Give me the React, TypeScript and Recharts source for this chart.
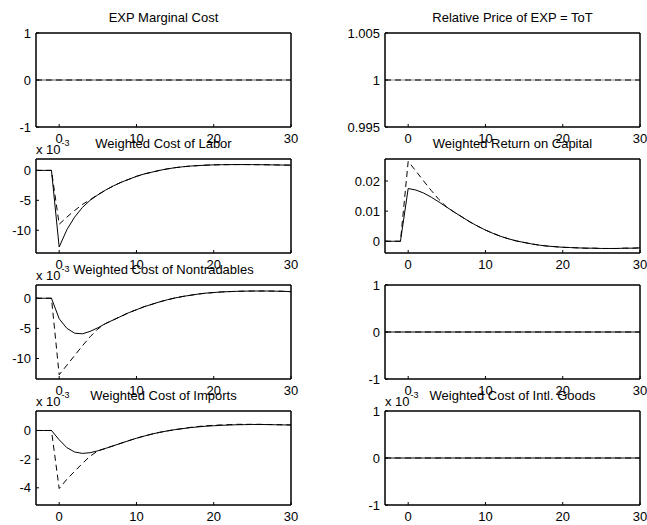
import { LineChart, Line, XAxis, YAxis, ReferenceArea } from 'recharts'

// quarters after the shock
const periods = [
  -3, -2, -1, 0, 1, 2, 3, 4, 5, 6, 7, 8, 9, 10, 11, 12, 13, 14, 15, 16,
  17, 18, 19, 20, 21, 22, 23, 24, 25, 26, 27, 28, 29, 30,
]
const xTicks = [0, 10, 20, 30]

// flat responses
const zeroPath = [
  0, 0, 0, 0, 0, 0, 0, 0, 0, 0, 0, 0, 0, 0, 0, 0, 0, 0, 0, 0,
  0, 0, 0, 0, 0, 0, 0, 0, 0, 0, 0, 0, 0, 0,
]
const unitPath = [
  1, 1, 1, 1, 1, 1, 1, 1, 1, 1, 1, 1, 1, 1, 1, 1, 1, 1, 1, 1,
  1, 1, 1, 1, 1, 1, 1, 1, 1, 1, 1, 1, 1, 1,
]

// x 10^-3
const laborSolid = [
  0, 0, 0, -12.8, -9.9, -7.8, -6.2, -5.0, -4.1, -3.3, -2.6, -2.0, -1.5, -1.0, -0.6, -0.3, 0.0, 0.25, 0.45, 0.6,
  0.72, 0.8, 0.87, 0.92, 0.95, 0.96, 0.97, 0.97, 0.96, 0.95, 0.93, 0.91, 0.89, 0.87,
]
const laborDashed = [
  0, 0, 0, -9.0, -7.8, -6.7, -5.7, -4.9, -4.05, -3.3, -2.6, -2.0, -1.5, -1.0, -0.6, -0.3, 0.0, 0.25, 0.45, 0.6,
  0.72, 0.8, 0.87, 0.92, 0.95, 0.96, 0.97, 0.97, 0.96, 0.95, 0.93, 0.91, 0.89, 0.87,
]

const capitalSolid = [
  0, 0, 0, 0.0175, 0.017, 0.016, 0.0146, 0.013, 0.0113, 0.0096, 0.008, 0.0064, 0.005, 0.0037, 0.0026, 0.0016, 0.0008, 0.0001, -0.0004, -0.0009,
  -0.0013, -0.0016, -0.0018, -0.002, -0.0021, -0.0022, -0.0023, -0.0023, -0.0024, -0.0024, -0.0024, -0.0023, -0.0023, -0.0022,
]
const capitalDashed = [
  0, 0, 0, 0.0265, 0.0233, 0.02, 0.0168, 0.0138, 0.0113, 0.0096, 0.008, 0.0064, 0.005, 0.0037, 0.0026, 0.0016, 0.0008, 0.0001, -0.0004, -0.0009,
  -0.0013, -0.0016, -0.0018, -0.002, -0.0021, -0.0022, -0.0023, -0.0023, -0.0024, -0.0024, -0.0024, -0.0023, -0.0023, -0.0022,
]

// x 10^-3
const nontradSolid = [
  0, 0, 0, -3.4, -5.0, -5.8, -5.9, -5.5, -4.9, -4.2, -3.6, -3.0, -2.4, -1.9, -1.4, -1.0, -0.6, -0.25, 0.05, 0.3,
  0.5, 0.7, 0.85, 0.95, 1.05, 1.1, 1.15, 1.18, 1.2, 1.2, 1.2, 1.18, 1.15, 1.1,
]
const nontradDashed = [
  0, 0, 0, -12.7, -11.1, -9.5, -7.9, -6.4, -5.1, -4.2, -3.6, -3.0, -2.4, -1.9, -1.4, -1.0, -0.6, -0.25, 0.05, 0.3,
  0.5, 0.7, 0.85, 0.95, 1.05, 1.1, 1.15, 1.18, 1.2, 1.2, 1.2, 1.18, 1.15, 1.1,
]

// x 10^-3
const importsSolid = [
  0, 0, 0, -0.65, -1.2, -1.5, -1.6, -1.55, -1.42, -1.25, -1.07, -0.89, -0.71, -0.54, -0.39, -0.25, -0.13, -0.03, 0.06, 0.13,
  0.2, 0.25, 0.3, 0.33, 0.36, 0.38, 0.4, 0.41, 0.42, 0.42, 0.41, 0.4, 0.39, 0.38,
]
const importsDashed = [
  0, 0, 0, -4.05, -3.4, -2.85, -2.3, -1.8, -1.42, -1.25, -1.07, -0.89, -0.71, -0.54, -0.39, -0.25, -0.13, -0.03, 0.06, 0.14,
  0.22, 0.28, 0.33, 0.36, 0.39, 0.41, 0.43, 0.43, 0.43, 0.43, 0.42, 0.41, 0.4, 0.39,
]

const FONT = '"Liberation Sans", Arial, Helvetica, sans-serif'
const BOX_W = 255
const BOX_H = 94
const PAD_L = 50
const PAD_T = 10

type PanelProps = {
  title?: string
  left: number
  top: number
  solid: number[]
  dashed: number[]
  domain: [number, number]
  ticks: number[]
  exponent?: boolean
  solidColor?: string
}

function Panel({ title, left, top, solid, dashed, domain, ticks, exponent, solidColor = '#000' }: PanelProps) {
  const data = periods.map((t, i) => ({ t, solid: solid[i], dashed: dashed[i] }))
  const tickStyle = { fill: '#000', fontSize: 13, fontFamily: FONT }
  const axisLine = { stroke: '#000', strokeWidth: 1 }
  const tickLine = { stroke: '#000', strokeWidth: 1 }

  return (
    <>
      {title && (
        <div
          style={{
            position: 'absolute',
            left,
            top: top - 23,
            width: BOX_W,
            textAlign: 'center',
            fontSize: 13,
            lineHeight: '15px',
            fontFamily: FONT,
            whiteSpace: 'nowrap',
          }}
        >
          {title}
        </div>
      )}
      {exponent && (
        <div
          style={{
            position: 'absolute',
            left,
            top: top - 17,
            fontSize: 13,
            lineHeight: '15px',
            fontFamily: FONT,
            whiteSpace: 'nowrap',
          }}
        >
          x 10<span style={{ position: 'relative', top: -8, left: 1, fontSize: 9 }}>-3</span>
        </div>
      )}
      <div style={{ position: 'absolute', left: left - PAD_L, top: top - PAD_T }}>
        <LineChart
          width={PAD_L + BOX_W + 10}
          height={PAD_T + BOX_H + 26}
          data={data}
          margin={{ top: PAD_T - 1, right: 9, bottom: 0, left: 14 }}
        >
          <XAxis
            dataKey="t"
            type="number"
            domain={[-3, 30]}
            allowDataOverflow
            ticks={xTicks}
            interval={0}
            height={26}
            tickSize={-3}
            tickMargin={10}
            tick={tickStyle}
            axisLine={axisLine}
            tickLine={tickLine}
          />
          <XAxis
            xAxisId="top"
            orientation="top"
            dataKey="t"
            type="number"
            domain={[-3, 30]}
            allowDataOverflow
            ticks={xTicks}
            interval={0}
            height={1}
            tickSize={-3}
            tick={false}
            axisLine={axisLine}
            tickLine={tickLine}
          />
          <YAxis
            type="number"
            domain={domain}
            allowDataOverflow
            ticks={ticks}
            interval={0}
            width={36}
            tickSize={-3}
            tickMargin={8}
            tick={tickStyle}
            axisLine={axisLine}
            tickLine={tickLine}
          />
          <YAxis
            yAxisId="right"
            orientation="right"
            type="number"
            domain={domain}
            allowDataOverflow
            ticks={ticks}
            interval={0}
            width={1}
            tickSize={-3}
            tick={false}
            axisLine={axisLine}
            tickLine={tickLine}
          />
          <ReferenceArea
            x1={-3}
            x2={30}
            y1={domain[0]}
            y2={domain[1]}
            fill="none"
            stroke="#000"
            strokeWidth={1}
            ifOverflow="visible"
          />
          <Line
            type="linear"
            dataKey="solid"
            stroke={solidColor}
            strokeWidth={1}
            dot={false}
            isAnimationActive={false}
          />
          <Line
            type="linear"
            dataKey="dashed"
            stroke="#000"
            strokeWidth={1}
            strokeDasharray="6 4"
            dot={false}
            isAnimationActive={false}
          />
        </LineChart>
      </div>
    </>
  )
}

export default function App() {
  const colL = 36
  const colR = 385
  const rows = [33, 159, 285, 411]

  return (
    <div
      style={{
        position: 'absolute',
        left: 0,
        top: 0,
        width: 647,
        height: 525,
        background: '#fff',
        overflow: 'hidden',
      }}
    >
      <Panel title="EXP Marginal Cost" left={colL} top={rows[0]} solid={zeroPath} dashed={zeroPath} domain={[-1, 1]} ticks={[-1, 0, 1]} solidColor="#555" />
      <Panel title="Relative Price of EXP = ToT" left={colR} top={rows[0]} solid={unitPath} dashed={unitPath} domain={[0.995, 1.005]} ticks={[0.995, 1, 1.005]} solidColor="#888" />
      <Panel title="Weighted Cost of Labor" left={colL} top={rows[1]} solid={laborSolid} dashed={laborDashed} domain={[-13.8, 1.9]} ticks={[-10, -5, 0]} exponent />
      <Panel title="Weighted Return on Capital" left={colR} top={rows[1]} solid={capitalSolid} dashed={capitalDashed} domain={[-0.0039, 0.0273]} ticks={[0, 0.01, 0.02]} />
      <Panel title="Weighted Cost of Nontradables" left={colL} top={rows[2]} solid={nontradSolid} dashed={nontradDashed} domain={[-13.4, 2.2]} ticks={[-10, -5, 0]} exponent />
      <Panel left={colR} top={rows[2]} solid={zeroPath} dashed={zeroPath} domain={[-1, 1]} ticks={[-1, 0, 1]} />
      <Panel title="Weighted Cost of Imports" left={colL} top={rows[3]} solid={importsSolid} dashed={importsDashed} domain={[-5.2, 1.36]} ticks={[-4, -2, 0]} exponent />
      <Panel title="Weighted Cost of Intl. Goods" left={colR} top={rows[3]} solid={zeroPath} dashed={zeroPath} domain={[-1, 1]} ticks={[-1, 0, 1]} exponent />
    </div>
  )
}
